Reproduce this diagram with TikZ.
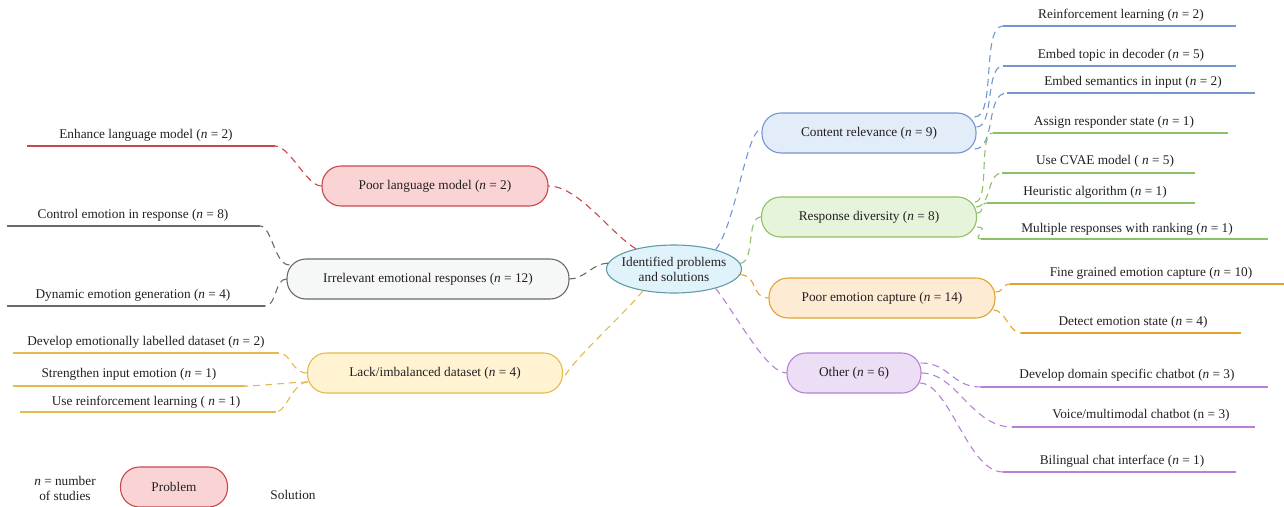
\documentclass[tikz,border=0pt]{standalone}
\usepackage{fontspec}
\setmainfont{Liberation Serif}
\usetikzlibrary{shapes.geometric,calc}
\definecolor{redB}{HTML}{C9474B}
\definecolor{redF}{HTML}{FAD4D4}
\definecolor{grayB}{HTML}{6A6A6A}
\definecolor{grayF}{HTML}{F6F8F7}
\definecolor{yelB}{HTML}{E5B94E}
\definecolor{yelF}{HTML}{FFF3D2}
\definecolor{bluB}{HTML}{7396D0}
\definecolor{bluF}{HTML}{E3ECF9}
\definecolor{grnB}{HTML}{8CC168}
\definecolor{grnF}{HTML}{E5F4DA}
\definecolor{oraB}{HTML}{E2A32C}
\definecolor{oraF}{HTML}{FDEBD3}
\definecolor{purB}{HTML}{B77FD6}
\definecolor{purF}{HTML}{ECDEF5}
\definecolor{cenB}{HTML}{5E9CA6}
\definecolor{cenF}{HTML}{E1F3FA}
\definecolor{txt}{HTML}{231F20}
\newcommand{\fsz}{\fontsize{13.3pt}{15pt}\selectfont}
\newcommand{\itn}{{\itshape n}}
\tikzset{
  prob/.style={draw, line width=1.1pt, rounded corners=19pt, minimum height=40pt, inner sep=0pt, text=txt, font=\fsz},
  soltxt/.style={text=txt, inner sep=0pt, font=\fsz},
  sline/.style={line width=1.2pt},
  con/.style={line width=1.1pt, dash pattern=on 7pt off 5pt},
}
\begin{document}
\begin{tikzpicture}[x=1pt,y=-1pt]
\useasboundingbox (0,0) rectangle (1284,506);

% central node
\node[ellipse, draw=cenB, fill=cenF, line width=1.1pt, minimum width=135pt, minimum height=48pt, inner xsep=-5pt, inner ysep=0pt, align=center, text=txt, font=\fsz] (cen) at (674,269) {Identified problems\\and solutions};

% problem nodes
\node[prob, draw=redB, fill=redF, minimum width=226pt] (plm) at (435,186) {Poor language model (\itn{} = 2)};
\node[prob, draw=grayB, fill=grayF, minimum width=282pt] (ier) at (428,279) {Irrelevant emotional responses (\itn{} = 12)};
\node[prob, draw=yelB, fill=yelF, minimum width=255pt] (lack) at (435,373) {Lack/imbalanced dataset (\itn{} = 4)};
\node[prob, draw=bluB, fill=bluF, minimum width=214pt] (cr) at (869,133) {Content relevance (\itn{} = 9)};
\node[prob, draw=grnB, fill=grnF, minimum width=215pt] (rd) at (869,217) {Response diversity (\itn{} = 8)};
\node[prob, draw=oraB, fill=oraF, minimum width=226pt] (pec) at (882,298) {Poor emotion capture (\itn{} = 14)};
\node[prob, draw=purB, fill=purF, minimum width=134pt] (oth) at (854,373) {Other (\itn{} = 6)};

% center connectors
\draw[con, redB] (cen.152) .. controls +(-25,-15) and +(30,0) .. (plm.east);
\draw[con, grayB] (cen.175) .. controls +(-15,0) and +(15,0) .. (ier.east);
\draw[con, yelB] (cen.215) .. controls +(-20,25) and +(10,-20) .. ($(lack.east)+(0,6)$);
\draw[con, bluB] (cen.25) .. controls +(20,-25) and +(-15,0) .. ($(cr.west)+(0,-4)$);
\draw[con, grnB] (cen.5) .. controls +(15,0) and +(-15,0) .. (rd.west);
\draw[con, oraB] (cen.-5) .. controls +(18,0) and +(-18,0) .. (pec.west);
\draw[con, purB] (cen.-25) .. controls +(20,25) and +(-20,0) .. (oth.west);

% left solutions
\node[soltxt] (e1) at (146,135) {Enhance language model (\itn{} = 2)};
\coordinate (e1a) at (27,146); \coordinate (e1b) at (275,146);
\draw[sline, redB] (e1a) -- (e1b);
\draw[con, redB] (plm.west) .. controls +(-15,0) and +(15,0) .. (e1b);

\node[soltxt] (c2) at (133,215) {Control emotion in response (\itn{} = 8)};
\coordinate (c2a) at (7,226); \coordinate (c2b) at (260,226);
\draw[sline, grayB] (c2a) -- (c2b);
\draw[con, grayB] ($(ier.west)+(3,-14)$) .. controls +(-15,0) and +(12,0) .. (c2b);

\node[soltxt] (d2) at (133,295) {Dynamic emotion generation (\itn{} = 4)};
\coordinate (d2a) at (7,306); \coordinate (d2b) at (265,306);
\draw[sline, grayB] (d2a) -- (d2b);
\draw[con, grayB] (ier.west) .. controls +(-12,0) and +(12,0) .. (d2b);

\node[soltxt] (l1) at (146,342) {Develop emotionally labelled dataset (\itn{} = 2)};
\coordinate (l1a) at (13,353); \coordinate (l1b) at (279,353);
\draw[sline, yelB] (l1a) -- (l1b);
\draw[con, yelB] (lack.west) .. controls +(-15,0) and +(12,0) .. (l1b);

\node[soltxt] (l2) at (129,374) {Strengthen input emotion (\itn{} = 1)};
\coordinate (l2a) at (13,386); \coordinate (l2b) at (245,386);
\draw[sline, yelB] (l2a) -- (l2b);
\draw[con, yelB] ($(lack.west)+(1,9)$) .. controls +(-15,0) and +(15,0) .. (l2b);

\node[soltxt] (l3) at (146,402) {Use reinforcement learning ( \itn{} = 1)};
\coordinate (l3a) at (20,412); \coordinate (l3b) at (276,412);
\draw[sline, yelB] (l3a) -- (l3b);
\draw[con, yelB] ($(lack.west)+(1,9)$) .. controls +(-15,0) and +(10,0) .. (l3b);

% right solutions: content relevance
\node[soltxt] (s1) at (1121,15) {Reinforcement learning (\itn{} = 2)};
\coordinate (s1a) at (1003,26); \coordinate (s1b) at (1236,26);
\draw[sline, bluB] (s1a) -- (s1b);
\draw[con, bluB] ($(cr.east)+(-2,-16)$) .. controls +(22,0) and +(-22,0) .. (s1a);

\node[soltxt] (s2) at (1121,55) {Embed topic in decoder (\itn{} = 5)};
\coordinate (s2a) at (1003,66); \coordinate (s2b) at (1236,66);
\draw[sline, bluB] (s2a) -- (s2b);
\draw[con, bluB] ($(cr.east)+(0,-6)$) .. controls +(18,0) and +(-18,0) .. (s2a);

\node[soltxt] (s3) at (1133,82) {Embed semantics in input (\itn{} = 2)};
\coordinate (s3a) at (1007,93); \coordinate (s3b) at (1255,93);
\draw[sline, bluB] (s3a) -- (s3b);
\draw[con, bluB] ($(cr.east)+(-2,16)$) .. controls +(22,0) and +(-22,0) .. (s3a);

% response diversity
\node[soltxt] (s4) at (1114,122) {Assign responder state (\itn{} = 1)};
\coordinate (s4a) at (993,133); \coordinate (s4b) at (1228,133);
\draw[sline, grnB] (s4a) -- (s4b);
\draw[con, grnB] ($(rd.east)+(-2,-15)$) .. controls +(15,0) and +(-15,0) .. (s4a);

\node[soltxt] (s5) at (1105,161) {Use CVAE model ( \itn{} = 5)};
\coordinate (s5a) at (1002,173); \coordinate (s5b) at (1195,173);
\draw[sline, grnB] (s5a) -- (s5b);
\draw[con, grnB] ($(rd.east)+(-1,-10)$) .. controls +(15,0) and +(-15,0) .. (s5a);

\node[soltxt] (s6) at (1095,192) {Heuristic algorithm (\itn{} = 1)};
\coordinate (s6a) at (987,203); \coordinate (s6b) at (1195,203);
\draw[sline, grnB] (s6a) -- (s6b);
\draw[con, grnB] ($(rd.east)+(0,-4)$) .. controls +(8,0) and +(-8,0) .. (s6a);

\node[soltxt] (s7) at (1127,229) {Multiple responses with ranking (\itn{} = 1)};
\coordinate (s7a) at (981,239); \coordinate (s7b) at (1268,239);
\draw[sline, grnB] (s7a) -- (s7b);
\draw[con, grnB] ($(rd.east)+(0,10)$) .. controls +(14,0) and +(-10,0) .. (s7a);

% poor emotion capture
\node[soltxt] (s8) at (1151,273) {Fine grained emotion capture (\itn{} = 10)};
\coordinate (s8a) at (1010,284); \coordinate (s8b) at (1284,284);
\draw[sline, oraB] (s8a) -- (s8b);
\draw[con, oraB] ($(pec.east)+(0,-6)$) .. controls +(8,0) and +(-8,0) .. (s8a);

\node[soltxt] (s9) at (1133,322) {Detect emotion state (\itn{} = 4)};
\coordinate (s9a) at (1021,333); \coordinate (s9b) at (1241,333);
\draw[sline, oraB] (s9a) -- (s9b);
\draw[con, oraB] ($(pec.east)+(-2,12)$) .. controls +(12,0) and +(-12,0) .. (s9a);

% other
\node[soltxt] (s10) at (1127,375) {Develop domain specific chatbot (\itn{} = 3)};
\coordinate (s10a) at (981,387); \coordinate (s10b) at (1268,387);
\draw[sline, purB] (s10a) -- (s10b);
\draw[con, purB] ($(oth.east)+(-1,-10)$) .. controls +(30,0) and +(-30,0) .. (s10a);

\node[soltxt] (s11) at (1141,415) {Voice/multimodal chatbot (n = 3)};
\coordinate (s11a) at (1012,427); \coordinate (s11b) at (1255,427);
\draw[sline, purB] (s11a) -- (s11b);
\draw[con, purB] (oth.east) .. controls +(35,0) and +(-40,0) .. (s11a);

\node[soltxt] (s12) at (1122,461) {Bilingual chat interface (\itn{} = 1)};
\coordinate (s12a) at (1003,472); \coordinate (s12b) at (1236,472);
\draw[sline, purB] (s12a) -- (s12b);
\draw[con, purB] ($(oth.east)+(-2,10)$) .. controls +(30,0) and +(-35,0) .. (s12a);

% legend
\node[soltxt, align=center] (leg) at (65,488) {\itn{} = number\\of studies};
\node[prob, draw=redB, fill=redF, minimum width=107pt] (lp) at (174,487) {Problem};
\node[soltxt] (ls) at (293,495) {Solution};
\end{tikzpicture}
\end{document}
